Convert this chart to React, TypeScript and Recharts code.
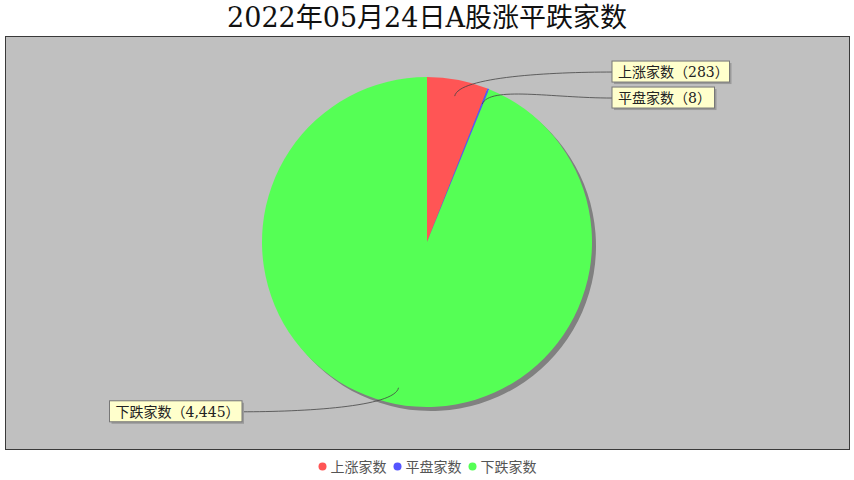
import { Legend, Pie, PieChart } from 'recharts';

const categories = ['上涨家数', '平盘家数', '下跌家数'];
const counts = [283, 8, 4445];
const colors = ['#ff5555', '#5555ff', '#55ff55'];
const title = '2022年05月24日A股涨平跌家数';

const data = categories.map((name, i) => ({ name, value: counts[i], fill: colors[i] }));

const CX = 427;
const CY = 242;
const R = 165;
const RAD = Math.PI / 180;
const cjk = '"DejaVu Serif", "Noto Sans CJK SC", serif';

const fmt = (v: number) => v.toLocaleString('en-US');

// label boxes placed per side, pushed apart when they would overlap
const placed: Record<number, number> = {};

const renderLabel = (props: any) => {
  const { cx, cy, outerRadius, midAngle, index, name, value } = props;
  const cos = Math.cos(-midAngle * RAD);
  const sin = Math.sin(-midAngle * RAD);
  const right = cos >= 0;
  let y = cy + (outerRadius + 8) * sin;
  if (index > 0 && placed[index - 1] !== undefined) {
    const prev = placed[index - 1];
    if (Math.abs(prev - y) < 26 && right) y = prev + 26;
  }
  placed[index] = y;
  const num = fmt(value);
  const text = `${name}（${num}）`;
  const w = (name.length + 2) * 13.5 + num.length * 7.5 + 14;
  const boxX = right ? cx + 185 : cx - 185 - w;
  const edgeX = right ? boxX : boxX + w;
  const sx = cx + outerRadius * 0.9 * cos;
  const sy = cy + outerRadius * 0.9 * sin;
  const ex = cx + outerRadius * 1.02 * cos;
  const ey = cy + outerRadius * 1.02 * sin;
  const c2x = right ? edgeX - 60 : edgeX + 60;
  return (
    <g key={`lbl-${index}`}>
      <path
        d={`M${sx},${sy} C${ex},${ey} ${c2x},${y} ${edgeX},${y}`}
        fill="none"
        stroke="#444"
        strokeWidth={0.8}
      />
      <rect x={boxX + 2} y={y - 9} width={w} height={21} fill="#9a9a9a" />
      <rect x={boxX} y={y - 11} width={w} height={21} fill="#ffffcc" stroke="#777" strokeWidth={1} />
      <text x={boxX + 6} y={y + 5} fontSize={14} fontFamily={cjk} fill="#222">
        {text}
      </text>
    </g>
  );
};

const renderLegend = () => (
  <div style={{ display: 'flex', justifyContent: 'center', alignItems: 'center', gap: 6 }}>
    {categories.map((name, i) => (
      <span key={name} style={{ display: 'flex', alignItems: 'center', gap: 4 }}>
        <svg width={9} height={9}>
          <circle cx={4.5} cy={4.5} r={4} fill={colors[i]} />
        </svg>
        <span style={{ fontSize: 14, fontFamily: cjk, color: '#555' }}>{name}</span>
      </span>
    ))}
  </div>
);

export default function App() {
  return (
    <div style={{ position: 'fixed', left: 0, top: 0, width: 854, height: 480, background: '#fff' }}>
      <div
        style={{
          position: 'absolute',
          left: 0,
          top: 2,
          width: 854,
          textAlign: 'center',
          fontSize: 27,
          fontFamily: cjk,
          color: '#111',
          lineHeight: '32px',
        }}
      >
        {title}
      </div>
      <div
        style={{
          position: 'absolute',
          left: 5,
          top: 36,
          width: 843,
          height: 412,
          background: '#c0c0c0',
          border: '1px solid #3a3a3a',
        }}
      />
      <div style={{ position: 'absolute', left: 0, top: 0 }}>
        <PieChart width={854} height={480} margin={{ top: 0, right: 0, bottom: 0, left: 0 }}>
          <Pie
            data={data}
            dataKey="value"
            nameKey="name"
            cx={CX + 4}
            cy={CY + 4}
            outerRadius={R}
            startAngle={90}
            endAngle={-270}
            fill="#808080"
            stroke="none"
            legendType="none"
            isAnimationActive={false}
            shape={(s: any) => (
              <path
                d={`M${s.cx},${s.cy} L${s.cx + s.outerRadius * Math.cos(-s.startAngle * RAD)},${s.cy + s.outerRadius * Math.sin(-s.startAngle * RAD)} A${s.outerRadius},${s.outerRadius} 0 ${Math.abs(s.endAngle - s.startAngle) > 180 ? 1 : 0} 1 ${s.cx + s.outerRadius * Math.cos(-s.endAngle * RAD)},${s.cy + s.outerRadius * Math.sin(-s.endAngle * RAD)} Z`}
                fill="#808080"
              />
            )}
          />
          <Pie
            data={data}
            dataKey="value"
            nameKey="name"
            cx={CX}
            cy={CY}
            outerRadius={R}
            startAngle={90}
            endAngle={-270}
            stroke="none"
            label={renderLabel}
            labelLine={false}
            isAnimationActive={false}
          />
          <Legend
            verticalAlign="bottom"
            align="center"
            wrapperStyle={{ bottom: 4 }}
            content={renderLegend}
          />
        </PieChart>
      </div>
    </div>
  );
}
